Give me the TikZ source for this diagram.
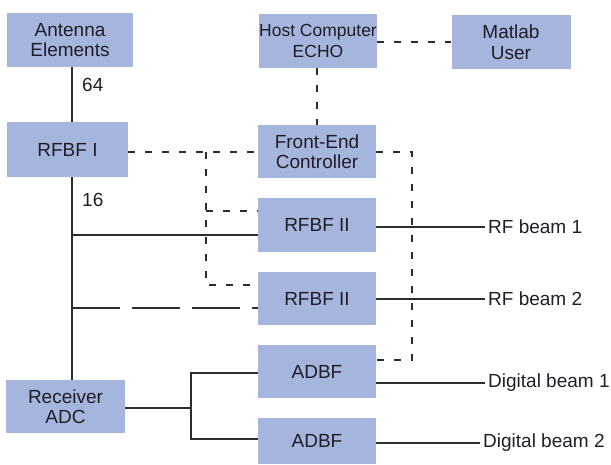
\documentclass[tikz,border=0pt]{standalone}
\usepackage{fontspec}
\setmainfont{Liberation Sans}
\definecolor{boxfill}{RGB}{166,181,221}
\definecolor{inkc}{RGB}{30,30,40}
\definecolor{linec}{RGB}{45,45,45}
\tikzset{
  blk/.style={fill=boxfill, draw=none, inner sep=0pt, align=center, text=inkc,
    font=\fontsize{19}{20.5}\selectfont, minimum width=118pt, minimum height=53pt},
  lbl/.style={text=inkc, inner sep=3pt, font=\fontsize{19}{20.5}\selectfont},
  solidln/.style={draw=linec, line width=1.3pt},
  shortdash/.style={draw=linec, line width=1.3pt, dash pattern=on 7pt off 10pt},
  longdash/.style={draw=linec, line width=1.3pt, dash pattern=on 48pt off 12pt},
}
\begin{document}
\begin{tikzpicture}[x=1pt,y=-1pt]
\useasboundingbox (0,0) rectangle (611,465);
% boxes
\node[blk, minimum width=126pt, minimum height=54pt] (ant) at (70,40) {Antenna\\Elements};
\node[blk, minimum height=54pt, font=\fontsize{17.5}{20.5}\selectfont] (host) at (318,41) {Host Computer\\ECHO};
\node[blk, minimum width=119pt, minimum height=54pt] (mat) at (511,42) {Matlab\\User};
\node[blk, minimum width=121pt, minimum height=55pt] (rf1) at (67.5,149.5) {RFBF I};
\node[blk] (fec) at (317,151.5) {Front-End\\Controller};
\node[blk, minimum height=54pt] (r2a) at (317,225) {RFBF II};
\node[blk] (r2b) at (317,298.5) {RFBF II};
\node[blk] (ad1) at (317,371.5) {ADBF};
\node[blk, minimum height=46pt] (ad2) at (317,441) {ADBF};
\node[blk, minimum width=119pt] (rx) at (65.5,406.5) {Receiver\\ADC};
% labels
\node[lbl, anchor=west] (n64) at (79,85) {64};
\node[lbl, anchor=west] (n16) at (79,200) {16};
\node[lbl, anchor=west] (b1) at (485,227) {RF beam 1};
\node[lbl, anchor=west] (b2) at (485,299) {RF beam 2};
\node[lbl, anchor=west] (d1) at (485,383) {Digital beam 1};
\node[lbl, anchor=west] (d2) at (480,443) {Digital beam 2};
% helper coordinates
\coordinate (vx) at (72,0);
\coordinate (ya) at (0,235);
\coordinate (yb) at (0,308);
\coordinate (jl) at (206,152);
\coordinate (jr) at (412,152);
\coordinate (bx) at (191,408);
% solid trunk
\draw[solidln] (ant.south -| vx) -- (rf1.north -| vx);
\draw[solidln] (rf1.south -| vx) -- (rx.north -| vx);
\draw[solidln] (vx |- ya) -- (r2a.west |- ya);
\draw[longdash] (vx |- yb) -- (r2b.west |- yb);
% receiver to ADBF
\draw[solidln] (rx.east |- bx) -- (bx);
\draw[solidln] ([yshift=-1.5pt]ad1.west) -| (bx) |- ([yshift=2pt]ad2.west);
% outputs
\draw[solidln] (r2a.east |- b1.west) -- (b1.west);
\draw[solidln] (r2b.east |- b2.west) -- (b2.west);
\draw[solidln] (ad1.east |- d1.west) -- (d1.west);
\draw[solidln] (ad2.east |- d2.west) -- (d2.west);
% control (dashed)
\draw[shortdash] (host.east |- 0,42) -- (mat.west |- 0,42);
\draw[shortdash] (host.south -| 317,0) -- (fec.north -| 317,0);
\draw[shortdash] (rf1.east |- jl) -- (fec.west |- jl);
\draw[shortdash] (jl) -- (jl |- 0,285) -- (r2b.west |- 0,285);
\draw[shortdash] (jl |- 0,211) -- (r2a.west |- 0,211);
\draw[shortdash] (fec.east |- jr) -- (jr) -- (jr |- 0,360) -- (ad1.east |- 0,360);
\end{tikzpicture}
\end{document}
